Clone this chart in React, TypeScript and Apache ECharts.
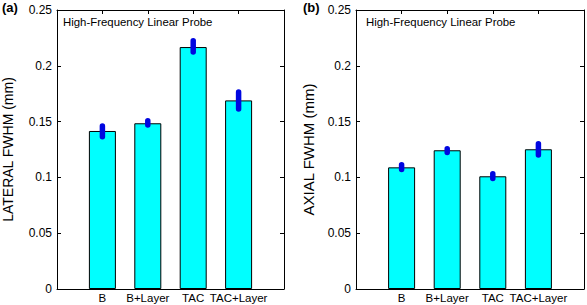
import React, { useEffect, useRef } from "react";
import * as echarts from "echarts";

const categories = ["B", "B+Layer", "TAC", "TAC+Layer"];
const lateralMean = [0.1416, 0.1485, 0.2168, 0.169];
const lateralLow = [0.134, 0.1445, 0.2099, 0.1589];
const lateralHigh = [0.1485, 0.1532, 0.2249, 0.1789];
const axialMean = [0.109, 0.1243, 0.101, 0.1252];
const axialLow = [0.1046, 0.1198, 0.0965, 0.1177];
const axialHigh = [0.1138, 0.1281, 0.1057, 0.1326];
const yTicks = [0, 0.05, 0.1, 0.15, 0.2, 0.25];

const FONT = "Liberation Sans, Arial, sans-serif";
const MARK_W = 5.5;

export default function App() {
  const ref = useRef<HTMLDivElement>(null);
  useEffect(() => {
    if (!ref.current) return;
    const chart = echarts.init(ref.current, null, { renderer: "svg" });
    const grids = [
      { left: 55, top: 10, width: 229, height: 279 },
      { left: 356, top: 10, width: 229, height: 279 },
    ];
    const lineStyle = { color: "#000", width: 1 };
    const xBottom = (g: number) => ({
      type: "value",
      gridIndex: g,
      min: 0,
      max: categories.length + 1,
      interval: 1,
      position: "bottom",
      axisLine: { show: true, onZero: false, lineStyle },
      axisTick: { show: true, inside: true, length: 4, lineStyle },
      axisLabel: {
        color: "#000",
        fontSize: 11.5,
        fontFamily: FONT,
        margin: 3,
        showMinLabel: true,
        showMaxLabel: true,
        formatter: (v: number) => categories[v - 1] ?? "",
      },
      splitLine: { show: false },
    });
    const xTop = (g: number) => ({
      type: "value",
      gridIndex: g,
      min: 0,
      max: categories.length + 1,
      interval: 1,
      position: "top",
      axisLine: { show: true, onZero: false, lineStyle },
      axisTick: { show: true, inside: true, length: 4, lineStyle },
      axisLabel: { show: false },
      splitLine: { show: false },
    });
    const yLeft = (g: number, name: string, nameSize: number, gap: number) => ({
      type: "value",
      gridIndex: g,
      min: yTicks[0],
      max: yTicks[yTicks.length - 1],
      interval: 0.05,
      position: "left",
      name,
      nameLocation: "middle",
      nameRotate: 90,
      nameGap: gap,
      nameTextStyle: { color: "#000", fontSize: nameSize, fontFamily: FONT },
      axisLine: { show: true, onZero: false, lineStyle },
      axisTick: { show: true, inside: true, length: 4, lineStyle },
      axisLabel: { color: "#000", fontSize: 12, fontFamily: FONT, margin: 5 },
      splitLine: { show: false },
    });
    const yRight = (g: number) => ({
      type: "value",
      gridIndex: g,
      min: yTicks[0],
      max: yTicks[yTicks.length - 1],
      interval: 0.05,
      position: "right",
      axisLine: { show: true, onZero: false, lineStyle },
      axisTick: { show: true, inside: true, length: 4, lineStyle },
      axisLabel: { show: false },
      splitLine: { show: false },
    });
    const barSeries = (g: number, vals: number[]) => ({
      type: "bar",
      xAxisIndex: g * 2,
      yAxisIndex: g * 2,
      barWidth: 27,
      data: vals.map((v, i) => [i + 1, v]),
      itemStyle: { color: "#00ffff", borderColor: "#000", borderWidth: 1 },
      z: 2,
    });
    const markSeries = (g: number, lo: number[], hi: number[]) => ({
      type: "custom",
      xAxisIndex: g * 2,
      yAxisIndex: g * 2,
      z: 5,
      data: lo.map((l, i) => [i + 1, l, hi[i]]),
      renderItem: (_p: any, api: any) => {
        const a = api.coord([api.value(0), api.value(1)]);
        const b = api.coord([api.value(0), api.value(2)]);
        return {
          type: "line",
          shape: { x1: a[0], y1: a[1] - MARK_W / 2, x2: b[0], y2: b[1] + MARK_W / 2 },
          style: { stroke: "#0006e0", lineWidth: MARK_W, lineCap: "round" },
        };
      },
    });
    chart.setOption({
      animation: false,
      backgroundColor: "#fff",
      grid: grids,
      xAxis: [xBottom(0), xTop(0), xBottom(1), xTop(1)],
      yAxis: [
        yLeft(0, "LATERAL FWHM (mm)", 14, 42),
        yRight(0),
        yLeft(1, "AXIAL FWHM (mm)", 15, 40),
        yRight(1),
      ],
      series: [
        barSeries(0, lateralMean),
        markSeries(0, lateralLow, lateralHigh),
        barSeries(1, axialMean),
        markSeries(1, axialLow, axialHigh),
      ],
      graphic: [
        { type: "text", left: 2, top: 1, style: { text: "(a)", font: `bold 13px ${FONT}`, fill: "#000" } },
        { type: "text", left: 303, top: 1, style: { text: "(b)", font: `bold 13px ${FONT}`, fill: "#000" } },
        { type: "text", left: 63, top: 16.5, style: { text: "High-Frequency Linear Probe", font: `11.4px ${FONT}`, fill: "#000" } },
        { type: "text", left: 366, top: 16.5, style: { text: "High-Frequency Linear Probe", font: `11.4px ${FONT}`, fill: "#000" } },
      ],
    });
    return () => chart.dispose();
  }, []);
  return (
    <div
      ref={ref}
      style={{ position: "absolute", left: 0, top: 0, width: 587, height: 305 }}
    />
  );
}
